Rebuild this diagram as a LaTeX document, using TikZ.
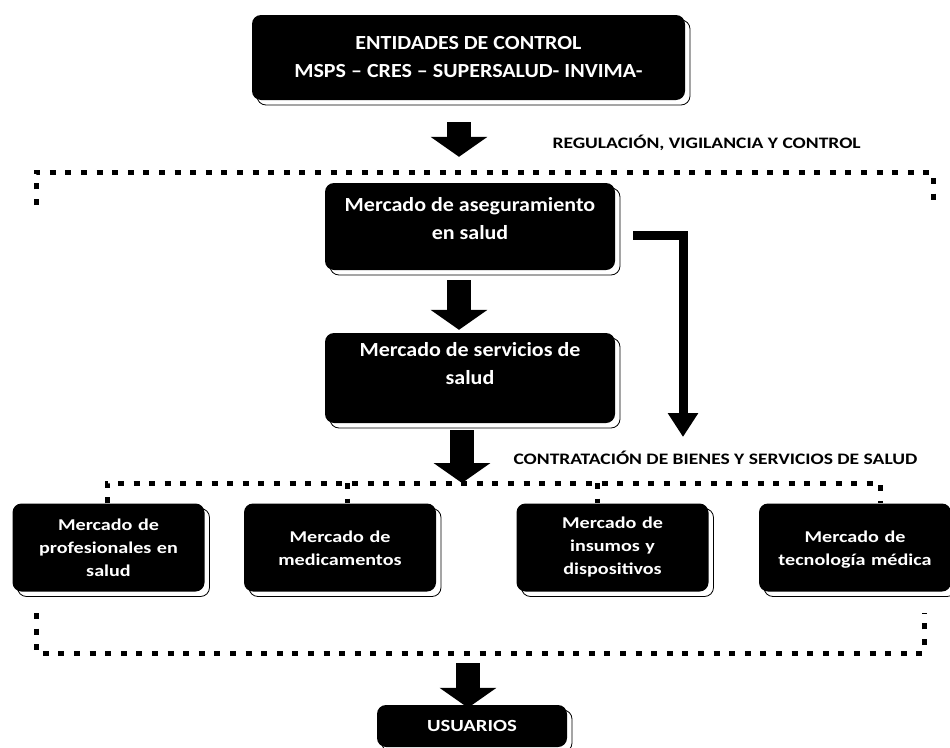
\documentclass[tikz,border=0pt]{standalone}
\usepackage{fontspec}
\setmainfont{Carlito}
\newfontfamily\widefont[FakeStretch=1.1]{Carlito}
\newfontfamily\widerfont[FakeStretch=1.22]{Carlito}
\usetikzlibrary{arrows.meta,shadows}

\begin{document}
\begin{tikzpicture}[x=1pt, y=1pt,
  box/.style={fill=black, text=white, rounded corners=9pt, align=center,
    inner sep=0pt, drop shadow={shadow xshift=5pt, shadow yshift=-5pt,
      fill=white, draw=black, line width=.8pt, opacity=1}},
  bigbox/.style={box, font=\widefont\bfseries\fontsize{20}{28}\selectfont},
  smallbox/.style={box, font=\widerfont\bfseries\fontsize{16.5}{23}\selectfont,
    minimum width=192, minimum height=88, text width=188},
  dots/.style={line width=5pt, dash pattern=on 6pt off 9.6pt},
  blockarrow/.style={line width=24pt, -{Triangle[width=56pt, length=20pt]}},
  elbowarrow/.style={line width=9pt, -{Triangle[width=29pt, length=24pt]}},
  tag/.style={anchor=west, font=\widerfont\bfseries\fontsize{16}{18}\selectfont}]
  \useasboundingbox (0,0) rectangle (950,-747);

  \node[bigbox, minimum width=433, minimum height=85] (control) at (468.5,-57.5)
    {ENTIDADES DE CONTROL\\MSPS – CRES – SUPERSALUD- INVIMA-};
  \node[bigbox, minimum width=290, minimum height=87, text depth=17pt] (aseg)
    at (470,-226.5) {Mercado de aseguramiento\\en salud};
  \node[bigbox, minimum width=290, minimum height=90, text depth=29pt] (serv)
    at (470,-378) {Mercado de servicios de\\salud};

  \node[smallbox] (prof) at (108.5,-547.5) {Mercado de\\profesionales en\\salud};
  \node[smallbox, text depth=22pt] (medic) at (340,-547.5) {Mercado de\\medicamentos};
  \node[smallbox] (insum) at (612.5,-547.5) {Mercado de\\insumos y\\dispositivos};
  \node[smallbox, text depth=22pt] (tecno) at (855,-547.5) {Mercado de\\tecnología médica};

  \node[box, font=\widerfont\bfseries\fontsize{17}{18}\selectfont, minimum width=190,
    minimum height=42] (users) at (472,-726) {USUARIOS};

  \node[tag] (regul) at (549,-143) {REGULACIÓN, VIGILANCIA Y CONTROL};
  \node[tag] (contrat) at (510,-458) {CONTRATACIÓN DE BIENES Y SERVICIOS DE SALUD};

  % dotted frames
  \coordinate (pool) at (462,-483);
  \coordinate (sink) at (468,-653);
  \draw[dots] (36,-205) -- (36,-172) -- (933,-172) -- (933,-205);
  \draw[dots] ([xshift=-1.5pt]prof.north) |- (pool) -| ([xshift=25pt]tecno.north);
  \draw[dots] ([xshift=7pt]medic.north |- pool) -- ([xshift=7pt]medic.north);
  \draw[dots] ([xshift=-15pt]insum.north |- pool) -- ([xshift=-15pt]insum.north);
  \draw[dots] (36,-613) -- (36,-653) -- (924,-653) -- (924,-613);

  % arrows
  \draw[blockarrow, shorten <=22pt, shorten >=26pt]
    ([xshift=-9.5pt]control.south) -- ([xshift=-11pt]aseg.north);
  \draw[blockarrow, shorten <=10pt, shorten >=3pt]
    ([xshift=-11pt]aseg.south) -- ([xshift=-11pt]serv.north);
  \draw[blockarrow, shorten <=7pt] ([xshift=-8pt]serv.south) -- (pool);
  \draw[blockarrow, shorten <=10pt, shorten >=-3pt] (sink) -- ([xshift=-4pt]users.north);
  \coordinate (elbowend) at (683,-437);
  \draw[elbowarrow] ([xshift=18pt, yshift=-8.5pt]aseg.east) -| (elbowend);
\end{tikzpicture}
\end{document}
